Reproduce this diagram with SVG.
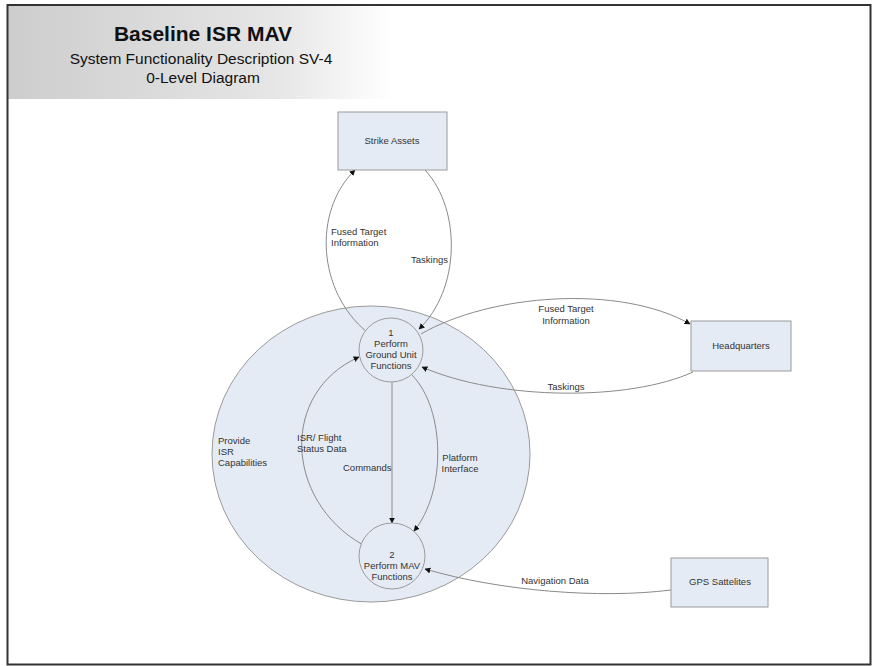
<svg xmlns="http://www.w3.org/2000/svg" width="875" height="666" viewBox="0 0 875 666">
  <style>
    .title { font-family: "Liberation Sans", Arial, sans-serif; fill: #111; text-anchor: middle; }
    .lbl { font-family: "Liberation Sans", Arial, sans-serif; font-size: 9.5px; fill: #333; }
    .mid { text-anchor: middle; }
    .box { fill: #e5ebf5; stroke: #9a9a9a; stroke-width: 1; }
    .proc { fill: #e5ebf5; stroke: #9a9a9a; stroke-width: 1; }
    .flow { fill: none; stroke: #8a8a8a; stroke-width: 1; marker-end: url(#arrow); }
  </style>
  <defs>
    <linearGradient id="band" x1="0" y1="0" x2="1" y2="0">
      <stop offset="0" stop-color="#cdcdcd"/>
      <stop offset="0.7" stop-color="#e6e6e6"/>
      <stop offset="1" stop-color="#ffffff"/>
    </linearGradient>
    <marker id="arrow" viewBox="0 0 10 10" refX="9" refY="5" markerWidth="6" markerHeight="6" markerUnits="userSpaceOnUse" orient="auto">
      <path d="M0,0 L10,5 L0,10 z" fill="#111"/>
    </marker>
  </defs>

  <!-- page -->
  <rect x="0" y="0" width="875" height="666" fill="#ffffff"/>
  <rect x="8" y="6" width="384" height="93" fill="url(#band)"/>
  <rect x="7.5" y="5" width="863" height="659.5" fill="none" stroke="#333" stroke-width="2"/>

  <!-- heading -->
  <text class="title" x="203" y="41" font-size="21" font-weight="bold">Baseline ISR MAV</text>
  <text class="title" x="201" y="64" font-size="15.5">System Functionality Description SV-4</text>
  <text class="title" x="203" y="83" font-size="15.5">0-Level Diagram</text>

  <!-- context process -->
  <g id="provide-isr">
    <ellipse class="proc" cx="371" cy="454" rx="159" ry="148"/>
    <text class="lbl" x="218" y="444">Provide</text>
    <text class="lbl" x="218" y="455">ISR</text>
    <text class="lbl" x="218" y="466">Capabilities</text>
  </g>

  <!-- connectors -->
  <g id="connectors">
    <path class="flow" d="M367,332 C318,292 312,212 355,170"/>
    <path class="flow" d="M425,170 C462,210 460,290 419,329"/>
    <path class="flow" d="M421,334 C490,294 620,284 690,324"/>
    <path class="flow" d="M693,372 C630,401 500,401 422,367"/>
    <path class="flow" d="M392,382 L392,523"/>
    <path class="flow" d="M412,375 C446,410 446,492 414,531"/>
    <path class="flow" d="M363,545 C284,500 280,392 359,357"/>
    <path class="flow" d="M671,590 C600,599 500,591 425,569"/>

    <text class="lbl" x="331" y="235">Fused Target</text>
    <text class="lbl" x="331" y="246">Information</text>
    <text class="lbl" x="411" y="263">Taskings</text>
    <text class="lbl mid" x="566" y="312">Fused Target</text>
    <text class="lbl mid" x="566" y="324">Information</text>
    <text class="lbl mid" x="566" y="390">Taskings</text>
    <text class="lbl" x="297" y="441">ISR/ Flight</text>
    <text class="lbl" x="297" y="452">Status Data</text>
    <text class="lbl" x="343" y="471">Commands</text>
    <text class="lbl mid" x="460" y="461">Platform</text>
    <text class="lbl mid" x="460" y="472">Interface</text>
    <text class="lbl mid" x="555" y="584">Navigation Data</text>
  </g>

  <!-- processes -->
  <g id="ground-unit">
    <circle class="proc" cx="391" cy="350" r="32"/>
    <text class="lbl mid" x="391" y="336">1</text>
    <text class="lbl mid" x="391" y="347">Perform</text>
    <text class="lbl mid" x="391" y="358">Ground Unit</text>
    <text class="lbl mid" x="391" y="369">Functions</text>
  </g>
  <g id="mav">
    <circle class="proc" cx="392" cy="556" r="33"/>
    <text class="lbl mid" x="392" y="558">2</text>
    <text class="lbl mid" x="392" y="569">Perform MAV</text>
    <text class="lbl mid" x="392" y="580">Functions</text>
  </g>

  <!-- external entities -->
  <g id="strike-assets">
    <rect class="box" x="338" y="112" width="109" height="58"/>
    <text class="lbl mid" x="392" y="144">Strike Assets</text>
  </g>
  <g id="headquarters">
    <rect class="box" x="691" y="321" width="100" height="50"/>
    <text class="lbl mid" x="741" y="349">Headquarters</text>
  </g>
  <g id="gps">
    <rect class="box" x="671" y="558" width="97" height="49"/>
    <text class="lbl mid" x="720" y="585">GPS Sattelites</text>
  </g>
</svg>
